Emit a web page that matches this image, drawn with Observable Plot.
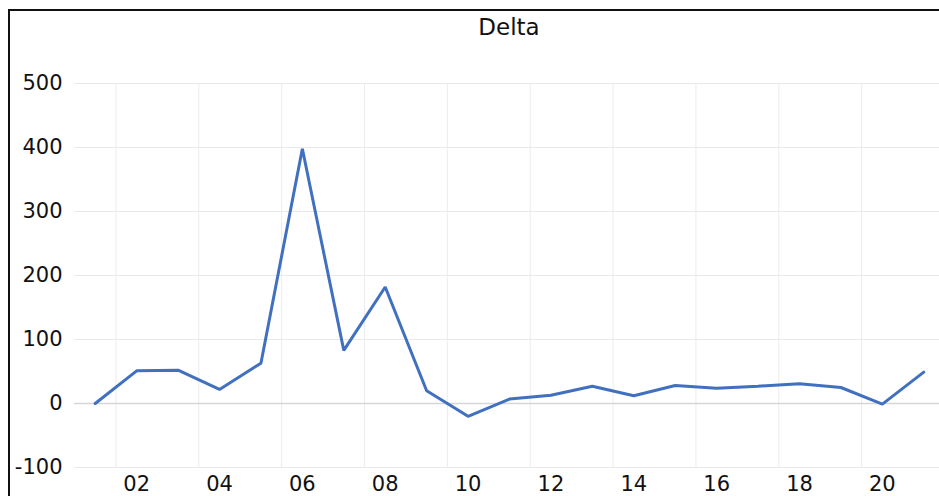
<!DOCTYPE html>
<html>
<head>
<meta charset="utf-8">
<script src="https://cdn.jsdelivr.net/npm/d3@7"></script>
<script src="https://cdn.jsdelivr.net/npm/@observablehq/plot@0.6"></script>
<style>
  html, body { margin: 0; padding: 0; background: #fff; overflow: hidden; }
  #wrap { position: relative; width: 939px; height: 496px; }
  #border { position: absolute; left: 8px; top: 9px; width: 960px; height: 520px;
            border-top: 2px solid #111; border-left: 2px solid #111; pointer-events: none; }
  #title { position: absolute; left: 409px; top: 14px; width: 200px; text-align: center;
           font-family: "DejaVu Sans", sans-serif; font-size: 23px; color: #111; }
  #chart { position: absolute; left: 0; top: 0; }
</style>
</head>
<body>
<div id="wrap">
  <div id="chart"></div>
  <div id="border"></div>
  <div id="title">Delta</div>
</div>
<script>
const years = [2001,2002,2003,2004,2005,2006,2007,2008,2009,2010,2011,2012,2013,2014,2015,2016,2017,2018,2019,2020,2021];
const delta = [0,51,52,22,63,398,83,182,20,-20,7,13,27,12,28,24,27,31,25,-1,49];
const yTicks = [-100,0,100,200,300,400,500];
const xLabelYears = [2002,2004,2006,2008,2010,2012,2014,2016,2018,2020];
const xGridYears = [2001.5,2003.5,2005.5,2007.5,2009.5,2011.5,2013.5,2015.5,2017.5,2019.5];

const data = years.map((y, i) => ({year: y, value: delta[i]}));

const chart = Plot.plot({
  width: 939,
  height: 496,
  marginTop: 83,
  marginBottom: 29,
  marginLeft: 74,
  marginRight: -5,
  style: {fontFamily: "DejaVu Sans, sans-serif", fontSize: "21px", color: "#111", background: "transparent", overflow: "visible"},
  x: {type: "linear", domain: [2000.5, 2021.5]},
  y: {domain: [-100, 500]},
  marks: [
    Plot.gridY(yTicks, {stroke: "#e9e9e9", strokeOpacity: 1}),
    Plot.gridX(xGridYears, {stroke: "#ececec", strokeOpacity: 1}),
    Plot.ruleY([0], {stroke: "#d6d6d6", strokeWidth: 1.3}),
    Plot.axisY(yTicks, {tickSize: 0, tickPadding: 12, tickFormat: d => String(d), label: null, fill: "#111"}),
    Plot.axisX(xLabelYears, {tickSize: 0, tickPadding: 9, tickFormat: d => String(d % 100).padStart(2, "0"), label: null, fill: "#111"}),
    Plot.line(data, {x: "year", y: "value", stroke: "#4170bf", strokeWidth: 3, strokeLinejoin: "miter"})
  ]
});
document.getElementById("chart").appendChild(chart);
</script>
</body>
</html>
